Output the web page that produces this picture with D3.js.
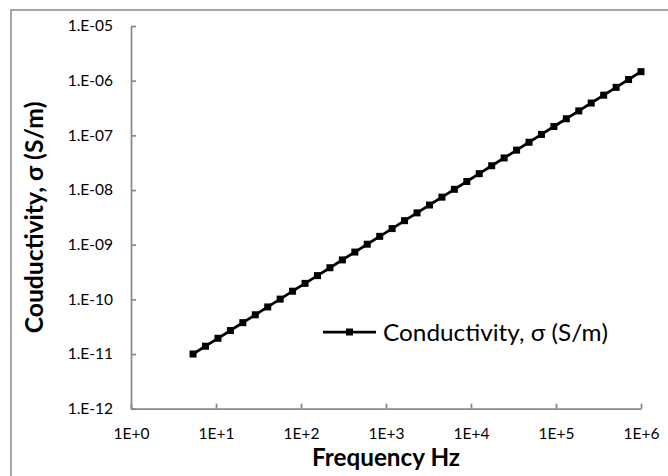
<!DOCTYPE html>
<html>
<head>
<meta charset="utf-8">
<script src="https://cdn.jsdelivr.net/npm/d3@7"></script>
<style>
	body { margin: 0; background: #fff; }
	svg { display: block; }
	text { font-family: Lato, "Open Sans", sans-serif; fill: #000; }
</style>
</head>
<body>
<div id="chart"></div>
<script>
// frequency (Hz) and conductivity (S/m)
var frequency = [
	5.37, 7.52, 10.54, 14.77, 20.68, 28.97, 40.58, 56.84, 79.63, 111.6,
	156.3, 218.9, 306.7, 429.7, 601.9, 843.2, 1181, 1654, 2317, 3246,
	4548, 6371, 8925, 12500, 17520, 24540, 34380, 48150, 67460, 94470,
	132300, 185400, 259700, 363800, 509700, 714000, 1000000
];
var conductivity = [
	1.00e-11, 1.39e-11, 1.94e-11, 2.69e-11, 3.75e-11, 5.22e-11, 7.26e-11, 1.01e-10, 1.41e-10, 1.96e-10,
	2.72e-10, 3.79e-10, 5.27e-10, 7.33e-10, 1.02e-9, 1.42e-9, 1.97e-9, 2.75e-9, 3.82e-9, 5.32e-9,
	7.40e-9, 1.03e-8, 1.43e-8, 1.99e-8, 2.78e-8, 3.86e-8, 5.37e-8, 7.48e-8, 1.04e-7, 1.45e-7,
	2.01e-7, 2.80e-7, 3.90e-7, 5.43e-7, 7.55e-7, 1.05e-6, 1.46e-6
];
var xTicks = [1, 1e1, 1e2, 1e3, 1e4, 1e5, 1e6];
var xTickLabels = ["1E+0", "1E+1", "1E+2", "1E+3", "1E+4", "1E+5", "1E+6"];
var yTicks = [1e-12, 1e-11, 1e-10, 1e-9, 1e-8, 1e-7, 1e-6, 1e-5];
var yTickLabels = ["1.E-12", "1.E-11", "1.E-10", "1.E-09", "1.E-08", "1.E-07", "1.E-06", "1.E-05"];
var seriesName = "Conductivity, \u03c3 (S/m)";
var xTitle = "Frequency Hz";
var yTitle = "Couductivity, \u03c3 (S/m)";

(function() {
	var width = 668,
		height = 476,
		plotLeft = 131, plotRight = 641,
		plotTop = 26, plotBottom = 408.7,
		axisColor = "#898989";

	var svg = d3.select("#chart").append("svg")
		.attr("width", width)
		.attr("height", height);

	// outer chart frame (runs off the right and bottom edge)
	svg.append("rect")
		.attr("x", 11).attr("y", 10)
		.attr("width", 700).attr("height", 520)
		.attr("fill", "none")
		.attr("stroke", axisColor)
		.attr("stroke-width", 1.5);

	var x = d3.scaleLog().domain([1, 1e6]).range([plotLeft, plotRight]);
	var y = d3.scaleLog().domain([1e-12, 1e-5]).range([plotBottom, plotTop]);

	var xAxis = d3.axisBottom(x)
		.tickValues(xTicks)
		.tickFormat(function(d, i) { return xTickLabels[i]; })
		.tickSizeInner(-5)
		.tickSizeOuter(0)
		.tickPadding(19);

	var yAxis = d3.axisLeft(y)
		.tickValues(yTicks)
		.tickFormat(function(d, i) { return yTickLabels[i]; })
		.tickSizeInner(-5)
		.tickSizeOuter(0)
		.tickPadding(18);

	var gx = svg.append("g")
		.attr("transform", "translate(0," + plotBottom + ")")
		.call(xAxis);
	var gy = svg.append("g")
		.attr("transform", "translate(" + plotLeft + ",0)")
		.call(yAxis);

	[gx, gy].forEach(function(g) {
		g.selectAll("path, line")
			.attr("stroke", axisColor)
			.attr("stroke-width", 1.75);
		g.selectAll("text")
			.attr("fill", "#000")
			.style("font-family", "Lato, sans-serif")
			.style("font-size", "15.5px");
	});

	// axis titles
	svg.append("text")
		.attr("x", (plotLeft + plotRight) / 2)
		.attr("y", 466)
		.attr("text-anchor", "middle")
		.attr("textLength", 148)
		.attr("lengthAdjust", "spacingAndGlyphs")
		.style("font-size", "24px")
		.style("font-weight", "bold")
		.text(xTitle);

	svg.append("text")
		.attr("transform", "translate(43," + (plotTop + plotBottom) / 2 + ") rotate(-90)")
		.attr("text-anchor", "middle")
		.attr("textLength", 232)
		.attr("lengthAdjust", "spacingAndGlyphs")
		.style("font-size", "24px")
		.style("font-weight", "bold")
		.text(yTitle);

	// series
	var data = frequency.map(function(f, i) { return { f: f, s: conductivity[i] }; });

	var line = d3.line()
		.x(function(d) { return x(d.f); })
		.y(function(d) { return y(d.s); });

	svg.append("path")
		.datum(data)
		.attr("d", line)
		.attr("fill", "none")
		.attr("stroke", "#000")
		.attr("stroke-width", 2.75);

	var ms = 7;
	svg.append("g")
		.selectAll("rect")
		.data(data)
		.enter()
		.append("rect")
		.attr("x", function(d) { return x(d.f) - ms / 2; })
		.attr("y", function(d) { return y(d.s) - ms / 2; })
		.attr("width", ms)
		.attr("height", ms)
		.attr("fill", "#000");

	// legend
	var legend = svg.append("g").attr("transform", "translate(323,332)");
	legend.append("line")
		.attr("x1", 0).attr("x2", 53)
		.attr("stroke", "#000")
		.attr("stroke-width", 2.75);
	legend.append("rect")
		.attr("x", 26.5 - ms / 2).attr("y", -ms / 2)
		.attr("width", ms).attr("height", ms)
		.attr("fill", "#000");
	legend.append("text")
		.attr("x", 60)
		.attr("y", 8.7)
		.attr("textLength", 225)
		.attr("lengthAdjust", "spacingAndGlyphs")
		.style("font-size", "23px")
		.text(seriesName);
}());
</script>
</body>
</html>
